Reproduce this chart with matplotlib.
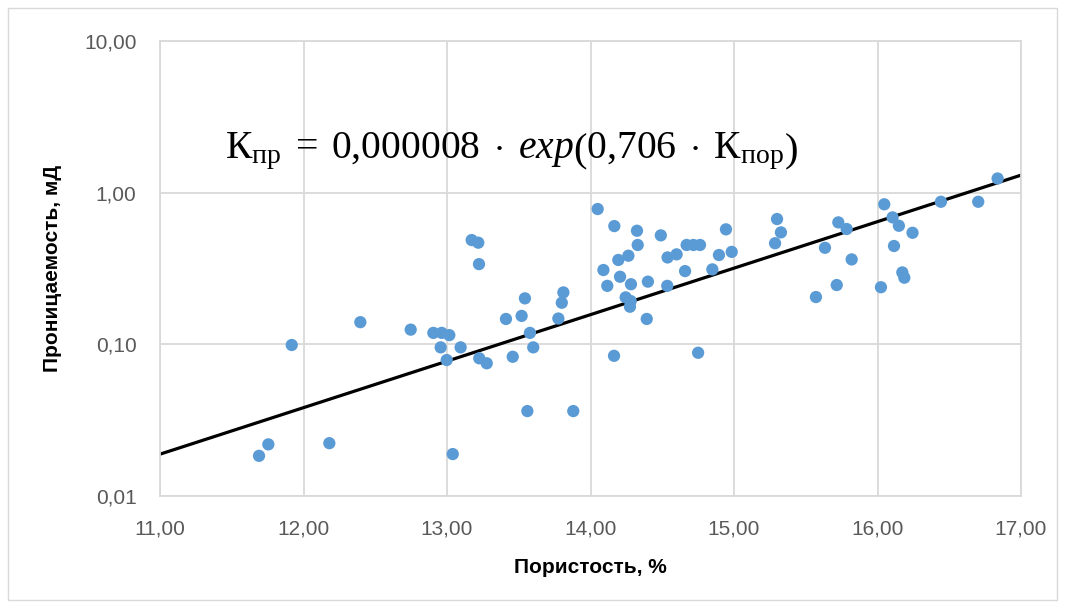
import matplotlib
matplotlib.use('Agg')
import numpy as np
from matplotlib import pyplot as plt
from matplotlib.patches import Rectangle
from matplotlib.ticker import FixedLocator, NullLocator

# пористость, %
porosity = [11.69, 11.755, 11.918, 12.18, 12.396, 12.747, 12.905, 12.956, 12.963,
            12.998, 13.016, 13.04, 13.095, 13.172, 13.218, 13.223, 13.225, 13.277,
            13.411, 13.458, 13.52, 13.543, 13.56, 13.578, 13.601, 13.776, 13.80,
            13.811, 13.88, 14.05, 14.09, 14.117, 14.164, 14.166, 14.194, 14.206,
            14.245, 14.264, 14.275, 14.28, 14.282, 14.324, 14.329, 14.392, 14.40,
            14.49, 14.535, 14.537, 14.60, 14.659, 14.67, 14.717, 14.75, 14.763,
            14.849, 14.895, 14.944, 14.984, 15.286, 15.30, 15.327, 15.571, 15.634,
            15.716, 15.727, 15.785, 15.82, 16.024, 16.047, 16.105, 16.115, 16.149,
            16.173, 16.187, 16.244, 16.442, 16.702, 16.837]
# проницаемость, мД
perm = [0.0184, 0.0219, 0.099, 0.0223, 0.140, 0.125, 0.119, 0.0955, 0.119,
        0.0788, 0.115, 0.0189, 0.0955, 0.487, 0.468, 0.338, 0.0809, 0.075,
        0.147, 0.0828, 0.154, 0.201, 0.0363, 0.119, 0.0955, 0.148, 0.188,
        0.220, 0.0363, 0.780, 0.309, 0.243, 0.084, 0.602, 0.360, 0.279,
        0.204, 0.384, 0.177, 0.193, 0.249, 0.561, 0.452, 0.147, 0.259,
        0.523, 0.243, 0.374, 0.392, 0.304, 0.452, 0.452, 0.088, 0.452,
        0.312, 0.388, 0.573, 0.407, 0.464, 0.670, 0.547, 0.205, 0.433,
        0.246, 0.637, 0.576, 0.363, 0.238, 0.838, 0.687, 0.445, 0.605,
        0.298, 0.275, 0.544, 0.871, 0.871, 1.24]

fit_a = 0.000008
fit_b = 0.706
x_range = [11, 17]

x_ticks = [11, 12, 13, 14, 15, 16, 17]
x_labels = ['11,00', '12,00', '13,00', '14,00', '15,00', '16,00', '17,00']
y_ticks = [0.01, 0.1, 1, 10]
y_labels = ['0,01', '0,10', '1,00', '10,00']

plt.rcParams['mathtext.fontset'] = 'custom'
plt.rcParams['mathtext.rm'] = 'Liberation Serif'
plt.rcParams['mathtext.it'] = 'Liberation Serif:italic'

fig = plt.figure(figsize=(10.66, 6.08), dpi=100)
ax = fig.add_axes([160 / 1066, 1 - 496 / 608, 861 / 1066, 455 / 608])

grid_c = '#D9D9D9'
text_c = '#595959'

ax.set_yscale('log')
ax.set_xlim(x_range)
ax.set_ylim(0.01, 10)
ax.xaxis.set_major_locator(FixedLocator(x_ticks))
ax.yaxis.set_major_locator(FixedLocator(y_ticks))
ax.yaxis.set_minor_locator(NullLocator())
ax.set_xticklabels(x_labels)
ax.set_yticklabels(y_labels)
ax.tick_params(length=0, labelsize=15, labelcolor=text_c, pad=17)
for lab in ax.get_xticklabels() + ax.get_yticklabels():
    lab.set_family('Liberation Sans')
ax.grid(True, color=grid_c, linewidth=1.3)
for sp in ax.spines.values():
    sp.set_color(grid_c)
    sp.set_linewidth(1.3)
ax.set_axisbelow(True)

xs = np.linspace(x_range[0], x_range[1], 200)
ax.plot(xs, fit_a * np.exp(fit_b * xs), color='black', linewidth=2.3, zorder=2)
ax.scatter(porosity, perm, s=78, color='#5B9BD5', edgecolors='none', zorder=3)

ax.set_xlabel('Пористость, %', fontsize=15, fontweight='bold',
              family='Liberation Sans', labelpad=14)
ax.set_ylabel('Проницаемость, мД', fontsize=15, fontweight='bold',
              family='Liberation Sans', labelpad=16)

eq = (r'$\mathrm{К}_{\mathrm{пр}}\;=\;0{,}000008\;\cdot\;exp\left(0{,}706\;\cdot\;'
      r'\mathrm{К}_{\mathrm{пор}}\right)$')
ax.text(225, 608 - 158, eq, transform=None, fontsize=28.5, color='black',
        va='baseline', ha='left')

fig.patches.append(Rectangle((8 / 1066, 8 / 608), 1049 / 1066, 592 / 608,
                             transform=fig.transFigure, fill=False,
                             edgecolor=grid_c, linewidth=1))

plt.savefig('out.png', dpi=100)
